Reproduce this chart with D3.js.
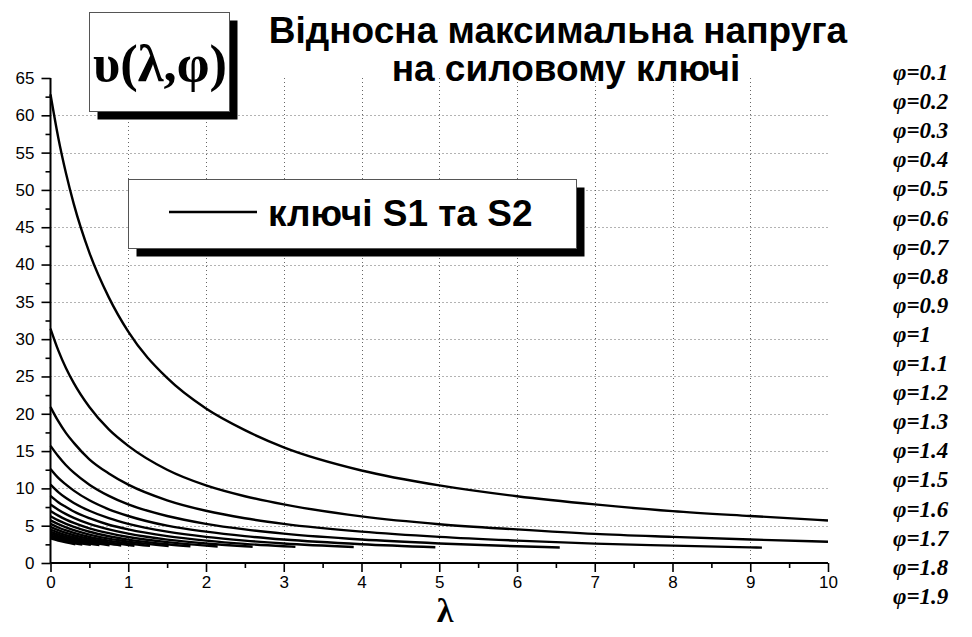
<!DOCTYPE html>
<html>
<head>
<meta charset="utf-8">
<script src="https://cdn.jsdelivr.net/npm/d3@7"></script>
<style>
  html, body { margin: 0; padding: 0; background: #fff; }
  svg { display: block; }
</style>
</head>
<body>
<svg id="chart" width="972" height="637"></svg>
<script>
// Relative peak voltage across the switch, υ(λ, φ), one curve per φ.
const phiValues = [0.1, 0.2, 0.3, 0.4, 0.5, 0.6, 0.7, 0.8, 0.9, 1.0,
                   1.1, 1.2, 1.3, 1.4, 1.5, 1.6, 1.7, 1.8, 1.9];
const phiLabels = ["φ=0.1", "φ=0.2", "φ=0.3", "φ=0.4", "φ=0.5", "φ=0.6", "φ=0.7",
                   "φ=0.8", "φ=0.9", "φ=1", "φ=1.1", "φ=1.2", "φ=1.3", "φ=1.4",
                   "φ=1.5", "φ=1.6", "φ=1.7", "φ=1.8", "φ=1.9"];

// λ sample points shared by all curves; each curve stops at its own end λ.
const lambdaGrid = [0, 0.1, 0.2, 0.3, 0.5, 0.75, 1, 1.5, 2, 2.5, 3, 4, 5, 6, 7, 8, 9, 10];
const lambdaEnd  = [10, 10, 9.15, 6.55, 4.95, 3.9, 3.15, 2.6, 2.15, 1.8,
                    1.52, 1.28, 1.08, 0.91, 0.76, 0.63, 0.52, 0.41, 0.32];

// υ values: readings at the grid points, the last entry is the value at the end λ.
const vPhi01 = [62.8, 57.0, 52.2, 48.1, 41.6, 35.6, 31.0, 24.8, 20.7, 17.8, 15.5, 12.4, 10.4, 8.95, 7.85, 6.95, 6.3, 5.7];
const vPhi02 = [31.4, 28.5, 26.1, 24.1, 20.9, 17.9, 15.7, 12.5, 10.4, 8.95, 7.85, 6.25, 5.2, 4.5, 3.9, 3.5, 3.15, 2.85];
const vPhi03 = [20.9, 19.0, 17.4, 16.1, 13.9, 12.0, 10.5, 8.4, 7.0, 6.0, 5.25, 4.2, 3.5, 3.0, 2.6, 2.33, 2.09, 2.06];
const vPhi04 = [15.7, 14.3, 13.1, 12.1, 10.5, 9.0, 7.85, 6.3, 5.25, 4.5, 3.93, 3.14, 2.62, 2.24, 2.08];
const vPhi05 = [12.6, 11.4, 10.5, 9.7, 8.4, 7.2, 6.3, 5.0, 4.2, 3.6, 3.14, 2.51, 2.11];
const vPhi06 = [10.5, 9.5, 8.7, 8.05, 7.0, 6.0, 5.24, 4.2, 3.5, 3.0, 2.62, 2.14];
const vPhi07 = [9.0, 8.15, 7.5, 6.9, 6.0, 5.13, 4.5, 3.6, 3.0, 2.56, 2.24, 2.16];
const vPhi08 = [7.85, 7.15, 6.55, 6.05, 5.24, 4.5, 3.93, 3.14, 2.62, 2.24, 2.18];
const vPhi09 = [6.98, 6.35, 5.82, 5.37, 4.65, 4.0, 3.49, 2.79, 2.33, 2.22];
const vPhi10 = [6.28, 5.71, 5.24, 4.83, 4.19, 3.59, 3.14, 2.51, 2.24];
const vPhi11 = [5.71, 5.2, 4.76, 4.4, 3.81, 3.26, 2.86, 2.27];
const vPhi12 = [5.24, 4.76, 4.36, 4.03, 3.49, 2.99, 2.62, 2.3];
const vPhi13 = [4.83, 4.4, 4.03, 3.72, 3.22, 2.76, 2.42, 2.32];
const vPhi14 = [4.49, 4.08, 3.74, 3.45, 2.99, 2.56, 2.35];
const vPhi15 = [4.19, 3.81, 3.49, 3.22, 2.79, 2.38];
const vPhi16 = [3.93, 3.57, 3.27, 3.02, 2.62, 2.41];
const vPhi17 = [3.70, 3.36, 3.08, 2.85, 2.43];
const vPhi18 = [3.49, 3.17, 2.91, 2.68, 2.48];
const vPhi19 = [3.31, 3.01, 2.76, 2.5];

const curveValues = [vPhi01, vPhi02, vPhi03, vPhi04, vPhi05, vPhi06, vPhi07, vPhi08, vPhi09, vPhi10,
                     vPhi11, vPhi12, vPhi13, vPhi14, vPhi15, vPhi16, vPhi17, vPhi18, vPhi19];

const xTicks = [0, 1, 2, 3, 4, 5, 6, 7, 8, 9, 10];
const yTicks = [0, 5, 10, 15, 20, 25, 30, 35, 40, 45, 50, 55, 60, 65];

const titleLines = ["Відносна максимальна напруга", "на силовому ключі"];
const legendText = "ключі S1 та S2";
const funcLabel = "υ(λ,φ)";
const xAxisLabel = "λ";

const svg = d3.select("#chart");

const x = d3.scaleLinear().domain([0, 10]).range([50.5, 828]);
const y = d3.scaleLinear().domain([0, 65]).range([563, 78]);

const sans = "'Liberation Sans', Arial, sans-serif";
const serif = "'Liberation Serif', 'Times New Roman', serif";

// dotted grid
const grid = svg.append("g").attr("stroke", "#666").attr("stroke-width", 1)
  .attr("stroke-dasharray", "1,3");
xTicks.filter(t => t > 0 && t < 10).forEach(t => {
  grid.append("line").attr("x1", Math.round(x(t)) + 0.5).attr("x2", Math.round(x(t)) + 0.5)
    .attr("y1", y(65)).attr("y2", y(0));
});
yTicks.filter(t => t > 0 && t < 65).forEach(t => {
  grid.append("line").attr("x1", x(0)).attr("x2", x(10))
    .attr("y1", Math.round(y(t)) + 0.5).attr("y2", Math.round(y(t)) + 0.5);
});

// curves
const line = d3.line()
  .x(d => x(d[0])).y(d => y(d[1]))
  .curve(d3.curveMonotoneX);

curveValues.forEach((vals, i) => {
  const pts = lambdaGrid.slice(0, vals.length - 1).map((l, j) => [l, vals[j]]);
  pts.push([lambdaEnd[i], vals[vals.length - 1]]);
  svg.append("path")
    .attr("d", line(pts))
    .attr("fill", "none")
    .attr("stroke", "#000")
    .attr("stroke-width", 2.4);
});

// axes
const xAxis = d3.axisBottom(x).tickValues(xTicks).tickSize(9).tickPadding(4)
  .tickFormat(d3.format("d"));
const gx = svg.append("g").attr("transform", `translate(0,${y(0)})`).call(xAxis);
const xMinor = d3.axisBottom(x).tickValues(d3.range(0.5, 10, 1)).tickSize(5).tickFormat("");
svg.append("g").attr("transform", `translate(0,${y(0)})`).call(xMinor)
  .call(g => g.select(".domain").remove());

const yAxis = d3.axisLeft(y).tickValues(yTicks).tickSize(9).tickPadding(7)
  .tickFormat(d3.format("d"));
const gy = svg.append("g").attr("transform", `translate(${x(0)},0)`).call(yAxis);
const yMinor = d3.axisLeft(y).tickValues(d3.range(2.5, 65, 5)).tickSize(5).tickFormat("");
svg.append("g").attr("transform", `translate(${x(0)},0)`).call(yMinor)
  .call(g => g.select(".domain").remove());

svg.selectAll(".domain").attr("stroke", "#000").attr("stroke-width", 2);
svg.selectAll(".tick line").attr("stroke", "#000").attr("stroke-width", 1.6);
gx.selectAll(".tick text").attr("font-family", sans).attr("font-size", 17).attr("fill", "#000");
gy.selectAll(".tick text").attr("font-family", sans).attr("font-size", 17).attr("fill", "#000");
gx.select(".domain").attr("d", `M${x(0)},0H${x(10)}`);
gy.select(".domain").attr("d", `M0,${y(0)}V${y(65)}`);

// x axis title
svg.append("text").attr("x", 445).attr("y", 622).attr("text-anchor", "middle")
  .attr("font-family", serif).attr("font-weight", "bold").attr("font-size", 34)
  .text(xAxisLabel);

// boxed labels with a drop shadow
function shadowBox(x0, y0, w, h, off) {
  svg.append("rect").attr("x", x0 + off).attr("y", y0 + off).attr("width", w).attr("height", h)
    .attr("fill", "#000");
  svg.append("rect").attr("x", x0).attr("y", y0).attr("width", w).attr("height", h)
    .attr("fill", "#fff").attr("stroke", "#555").attr("stroke-width", 1);
}
shadowBox(89.5, 12.5, 140, 99, 8);
svg.append("text").attr("x", 160).attr("y", 81).attr("text-anchor", "middle")
  .attr("font-family", serif).attr("font-weight", "bold").attr("font-size", 53)
  .attr("textLength", 134).attr("lengthAdjust", "spacingAndGlyphs")
  .text(funcLabel);

// series key box
shadowBox(128.5, 179.5, 448, 69, 8);
svg.append("line").attr("x1", 169).attr("x2", 257).attr("y1", 212).attr("y2", 212)
  .attr("stroke", "#000").attr("stroke-width", 2.5);
svg.append("text").attr("x", 268).attr("y", 226)
  .attr("font-family", sans).attr("font-weight", "bold").attr("font-size", 37)
  .text(legendText);

// title
titleLines.forEach((t, i) => {
  svg.append("text").attr("x", 558 + i * 8).attr("y", 43 + i * 38).attr("text-anchor", "middle")
    .attr("font-family", sans).attr("font-weight", "bold").attr("font-size", 37)
    .text(t);
});

// φ labels down the right side
svg.append("g").selectAll("text").data(phiLabels).join("text")
  .attr("x", 893)
  .attr("y", (d, i) => 80 + i * 29.1)
  .attr("font-family", serif).attr("font-weight", "bold").attr("font-style", "italic")
  .attr("font-size", 23)
  .text(d => d);
</script>
</body>
</html>
